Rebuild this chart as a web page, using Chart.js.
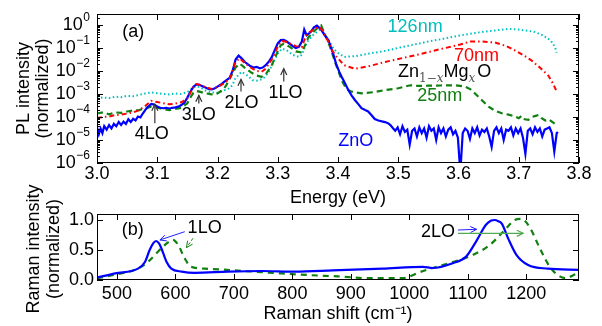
<!DOCTYPE html>
<html>
<head>
<meta charset="utf-8">
<script src="https://cdn.jsdelivr.net/npm/chart.js@4.4.1/dist/chart.umd.min.js"></script>
<style>
  body { margin: 0; background: #fff; }
  #wrap { position: relative; width: 602px; height: 326px; }
  canvas { position: absolute; left: 0; }
  #plChart { top: 0; }
  #ramanChart { top: 170px; }
</style>
</head>
<body>
<div id="wrap">
  <canvas id="plChart" width="602" height="212"></canvas>
  <canvas id="ramanChart" width="602" height="156"></canvas>
</div>
<script>
// (a) PL spectra: [energy eV, log10 normalized intensity]
const plZnO = [
  [3.000,-4.45],[3.003,-4.75],[3.006,-4.5],[3.009,-4.7],[3.012,-4.4],[3.016,-4.55],[3.020,-4.35],
  [3.024,-4.5],[3.028,-4.3],[3.032,-4.4],[3.036,-4.22],[3.040,-4.35],[3.044,-4.2],[3.048,-4.3],
  [3.052,-4.1],[3.056,-4.22],[3.060,-4.08],[3.064,-4.15],[3.068,-3.98],[3.072,-4.02],[3.076,-3.85],
  [3.080,-3.7],[3.085,-3.55],[3.090,-3.43],[3.095,-3.46],[3.100,-3.55],[3.105,-3.6],[3.110,-3.62],
  [3.115,-3.6],[3.120,-3.63],[3.125,-3.6],[3.130,-3.58],[3.135,-3.55],[3.140,-3.48],[3.145,-3.38],
  [3.150,-3.15],[3.155,-2.9],[3.160,-2.68],[3.165,-2.58],[3.170,-2.6],[3.175,-2.66],[3.180,-2.72],
  [3.185,-2.78],[3.190,-2.8],[3.195,-2.76],[3.200,-2.68],[3.205,-2.6],[3.210,-2.5],[3.215,-2.4],
  [3.220,-2.3],[3.225,-2.0],[3.230,-1.5],[3.235,-1.33],[3.240,-1.45],[3.245,-1.6],[3.250,-1.7],
  [3.255,-1.8],[3.260,-1.85],[3.265,-1.82],[3.270,-1.88],[3.275,-1.85],[3.280,-1.75],[3.285,-1.6],
  [3.290,-1.4],[3.295,-1.1],[3.300,-0.8],[3.305,-0.66],[3.310,-0.65],[3.315,-0.72],[3.320,-0.82],
  [3.325,-0.92],[3.330,-1.0],[3.335,-0.95],[3.340,-0.72],[3.344,-0.2],[3.348,-0.45],[3.355,-0.3],
  [3.360,-0.1],[3.365,-0.03],[3.372,-0.2],[3.378,-0.45],[3.384,-0.65],[3.392,-1.25],[3.397,-1.7],
  [3.402,-2.03],[3.406,-2.25],[3.412,-2.55],[3.417,-2.83],[3.423,-3.08],[3.428,-3.26],[3.434,-3.45],
  [3.439,-3.62],[3.445,-3.7],[3.450,-3.76],[3.455,-3.9],[3.461,-4.09],[3.467,-4.15],[3.473,-4.19],
  [3.478,-4.22],[3.483,-4.27],[3.487,-4.35],[3.491,-4.48],
  [3.495,-4.6],[3.499,-4.45],[3.503,-4.75],[3.507,-4.4],[3.511,-4.65],[3.515,-4.55],[3.519,-5.2],
  [3.523,-4.6],[3.527,-4.5],[3.531,-4.85],[3.535,-4.45],[3.539,-4.7],[3.543,-4.5],[3.547,-4.9],
  [3.551,-4.4],[3.555,-4.6],[3.559,-4.5],[3.563,-5.0],[3.567,-4.45],[3.571,-4.7],[3.575,-4.5],
  [3.579,-4.85],[3.583,-4.55],[3.587,-4.45],[3.591,-4.75],[3.595,-4.6],[3.599,-4.9],[3.603,-6.4],
  [3.607,-4.7],[3.611,-4.5],[3.615,-4.6],[3.619,-4.95],[3.623,-4.5],[3.627,-4.7],[3.631,-4.45],
  [3.635,-4.8],[3.639,-4.55],[3.643,-4.65],[3.647,-4.5],[3.651,-4.85],[3.655,-5.3],[3.659,-4.6],
  [3.663,-4.45],[3.667,-4.7],[3.671,-4.5],[3.675,-5.0],[3.679,-4.55],[3.683,-4.6],[3.687,-4.45],
  [3.691,-4.8],[3.695,-4.5],[3.699,-4.7],[3.703,-4.5],[3.707,-4.9],[3.711,-5.6],[3.715,-4.6],
  [3.719,-4.5],[3.723,-4.75],[3.727,-4.45],[3.731,-4.65],[3.735,-4.5],[3.739,-4.85],[3.743,-4.55],
  [3.747,-4.5],[3.751,-4.45],[3.755,-4.7],[3.759,-5.5],[3.763,-4.7],[3.765,-4.65]
];
const pl25nm = [
  [3.000,-3.85],[3.010,-3.8],[3.020,-3.88],[3.030,-3.8],[3.040,-3.82],[3.050,-3.76],[3.060,-3.72],
  [3.070,-3.7],[3.080,-3.62],[3.090,-3.55],[3.100,-3.6],[3.110,-3.66],[3.120,-3.7],[3.130,-3.65],
  [3.140,-3.6],[3.150,-3.4],[3.155,-3.15],[3.160,-2.95],[3.165,-2.87],[3.170,-2.9],[3.180,-2.97],
  [3.190,-3.02],[3.200,-2.98],[3.210,-2.8],[3.215,-2.6],[3.220,-2.35],[3.225,-2.1],[3.230,-1.85],
  [3.237,-1.68],[3.245,-1.85],[3.255,-2.05],[3.265,-2.2],[3.273,-2.25],[3.280,-2.15],[3.290,-1.75],
  [3.300,-1.15],[3.305,-0.88],[3.310,-0.82],[3.320,-0.95],[3.330,-1.15],[3.340,-1.2],[3.345,-0.9],
  [3.351,-0.53],[3.359,-0.31],[3.365,-0.15],[3.372,-0.02],[3.378,-0.39],[3.387,-0.96],[3.395,-1.6],
  [3.402,-2.1],[3.408,-2.5],[3.414,-2.78],[3.422,-2.9],[3.439,-2.97],[3.460,-2.92],[3.478,-2.83],
  [3.500,-2.75],[3.520,-2.62],[3.533,-2.65],[3.550,-2.64],[3.570,-2.63],[3.594,-2.62],[3.611,-2.68],
  [3.620,-2.8],[3.627,-2.97],[3.638,-3.25],[3.650,-3.55],[3.660,-3.72],[3.672,-3.84],[3.683,-3.9],
  [3.694,-3.98],[3.700,-4.05],[3.705,-3.95],[3.710,-4.1],[3.716,-4.12],[3.722,-4.0],[3.728,-3.95],
  [3.733,-3.91],[3.738,-4.05],[3.744,-4.15],[3.750,-4.1],[3.755,-4.2],[3.760,-4.3],[3.763,-4.38]
];
const pl70nm = [
  [3.000,-4.05],[3.010,-4.0],[3.020,-3.98],[3.030,-3.92],[3.040,-3.9],[3.050,-3.85],[3.060,-3.8],
  [3.070,-3.7],[3.080,-3.52],[3.090,-3.3],[3.100,-3.35],[3.110,-3.4],[3.120,-3.45],[3.130,-3.42],
  [3.140,-3.36],[3.150,-3.2],[3.155,-2.95],[3.160,-2.7],[3.165,-2.57],[3.170,-2.6],[3.180,-2.7],
  [3.190,-2.78],[3.200,-2.7],[3.210,-2.55],[3.220,-2.35],[3.225,-2.05],[3.230,-1.6],[3.237,-1.45],
  [3.245,-1.65],[3.255,-1.85],[3.265,-2.0],[3.273,-2.04],[3.280,-1.9],[3.290,-1.5],[3.300,-0.95],
  [3.305,-0.72],[3.310,-0.7],[3.320,-0.8],[3.330,-0.92],[3.340,-0.96],[3.345,-0.6],[3.350,-0.35],
  [3.360,-0.2],[3.368,-0.08],[3.375,-0.25],[3.380,-0.5],[3.385,-0.8],[3.390,-1.1],[3.398,-1.39],
  [3.410,-1.75],[3.428,-1.9],[3.450,-1.8],[3.478,-1.61],[3.510,-1.42],[3.539,-1.25],[3.570,-1.05],
  [3.603,-0.85],[3.619,-0.72],[3.640,-0.72],[3.660,-0.76],[3.680,-0.92],[3.694,-1.11],[3.710,-1.35],
  [3.721,-1.54],[3.735,-1.85],[3.749,-2.2],[3.757,-2.55],[3.763,-2.9]
];
const pl126nm = [
  [3.000,-3.2],[3.010,-3.15],[3.020,-3.18],[3.030,-3.12],[3.040,-3.14],[3.050,-3.08],[3.060,-3.1],
  [3.070,-3.04],[3.080,-2.98],[3.090,-2.93],[3.100,-2.97],[3.110,-3.0],[3.120,-3.02],[3.130,-2.98],
  [3.140,-3.0],[3.150,-2.92],[3.160,-2.72],[3.165,-2.67],[3.170,-2.7],[3.180,-2.85],[3.190,-2.93],
  [3.200,-2.95],[3.210,-2.85],[3.220,-2.75],[3.225,-2.6],[3.230,-2.3],[3.240,-2.04],[3.250,-2.2],
  [3.258,-2.4],[3.265,-2.42],[3.275,-2.35],[3.285,-2.05],[3.295,-1.5],[3.300,-1.25],[3.307,-1.03],
  [3.315,-1.1],[3.325,-1.3],[3.335,-1.39],[3.340,-1.3],[3.345,-0.95],[3.350,-0.7],[3.360,-0.4],
  [3.372,-0.17],[3.378,-0.4],[3.385,-0.7],[3.392,-1.0],[3.398,-1.18],[3.410,-1.39],[3.430,-1.35],
  [3.450,-1.25],[3.480,-1.12],[3.506,-0.96],[3.530,-0.83],[3.550,-0.72],[3.575,-0.6],[3.594,-0.5],
  [3.615,-0.4],[3.638,-0.31],[3.660,-0.24],[3.683,-0.17],[3.700,-0.2],[3.715,-0.25],[3.727,-0.31],
  [3.740,-0.45],[3.750,-0.62],[3.755,-0.75],[3.760,-0.95],[3.763,-1.2]
];

// (b) Raman spectra: [shift cm-1, normalized intensity]
const ramanZnO = [
  [466,0.04],[497,0.11],[536,0.19],[548,0.3],[556,0.5],[562,0.61],[567,0.65],[572,0.61],[576,0.53],
  [585,0.3],[593,0.19],[611,0.14],[633,0.12],[690,0.14],[747,0.15],[804,0.14],[869,0.16],[954,0.19],
  [1023,0.22],[1040,0.2],[1074,0.28],[1097,0.39],[1114,0.64],[1131,0.92],[1140,0.99],[1146,1.0],
  [1152,0.98],[1158,0.94],[1169,0.69],[1183,0.42],[1203,0.25],[1237,0.19],[1290,0.17]
];
const ramanFilm = [
  [466,0.03],[497,0.09],[536,0.19],[553,0.3],[576,0.53],[588,0.63],[596,0.67],[605,0.58],[616,0.36],
  [627,0.22],[650,0.19],[718,0.15],[780,0.11],[832,0.08],[878,0.06],[932,0.03],[989,0.03],[1001,0.06],
  [1015,0.12],[1040,0.2],[1074,0.3],[1109,0.42],[1137,0.58],[1160,0.8],[1180,1.0],[1191,1.02],
  [1205,0.89],[1223,0.53],[1240,0.22],[1257,0.06],[1268,0.03],[1280,0.08],[1290,0.13]
];

const plDecades = [-6, -5, -4, -3, -2, -1, 0];
const energyTicks = [3.0, 3.1, 3.2, 3.3, 3.4, 3.5, 3.6, 3.7, 3.8];
const ramanTitle = ['Raman intensity', '(normalized)'];

const FONT = "'Liberation Sans', Arial, sans-serif";
Chart.defaults.font.family = FONT;
Chart.defaults.font.size = 18;
Chart.defaults.color = '#000';

const fromLog = arr => arr.map(p => ({ x: p[0], y: Math.pow(10, p[1]) }));
const toXY = arr => arr.map(p => ({ x: p[0], y: p[1] }));

function arrow(ctx, x1, y1, x2, y2, color, dash, w) {
  ctx.save();
  ctx.strokeStyle = color;
  ctx.lineWidth = w || 1;
  ctx.setLineDash(dash || []);
  ctx.beginPath(); ctx.moveTo(x1, y1); ctx.lineTo(x2, y2); ctx.stroke();
  ctx.setLineDash([]);
  const a = Math.atan2(y2 - y1, x2 - x1), h = 7;
  ctx.beginPath();
  ctx.moveTo(x2 - h * Math.cos(a - 0.45), y2 - h * Math.sin(a - 0.45));
  ctx.lineTo(x2, y2);
  ctx.lineTo(x2 - h * Math.cos(a + 0.45), y2 - h * Math.sin(a + 0.45));
  ctx.stroke();
  ctx.restore();
}

function text(ctx, s, x, y, color, font, align) {
  ctx.font = font || ('18px ' + FONT);
  ctx.fillStyle = color || '#000';
  ctx.textAlign = align || 'center';
  ctx.textBaseline = 'middle';
  ctx.fillText(s, x, y);
}

// frame with inward ticks on all four sides
function drawBox(chart, xTicks, yTicks) {
  const { ctx, chartArea: a } = chart;
  const xs = chart.scales.x, ys = chart.scales.y;
  ctx.save();
  ctx.strokeStyle = '#000';
  ctx.lineWidth = 1;
  ctx.strokeRect(a.left + 0.5, a.top + 0.5, a.right - a.left - 1, a.bottom - a.top - 1);
  ctx.beginPath();
  xTicks.forEach(t => {
    const px = Math.round(xs.getPixelForValue(t.v)) + 0.5;
    ctx.moveTo(px, a.top); ctx.lineTo(px, a.top + t.len);
    ctx.moveTo(px, a.bottom); ctx.lineTo(px, a.bottom - t.len);
  });
  yTicks.forEach(t => {
    const py = Math.round(ys.getPixelForValue(t.v)) + 0.5;
    ctx.moveTo(a.left, py); ctx.lineTo(a.left + t.len, py);
    ctx.moveTo(a.right, py); ctx.lineTo(a.right - t.len, py);
  });
  ctx.stroke();
  ctx.restore();
}

const plDecor = {
  id: 'plDecor',
  afterDraw(chart) {
    const { ctx, chartArea: a } = chart;
    const xs = chart.scales.x, ys = chart.scales.y;
    const X = v => xs.getPixelForValue(v);
    const Y = l => ys.getPixelForValue(Math.pow(10, l));

    const yTicks = [];
    plDecades.forEach(d => {
      for (let m = 1; m <= 9; m++) {
        const v = m * Math.pow(10, d);
        if (v <= ys.max) yTicks.push({ v: v, len: m === 1 ? 6 : 3 });
      }
    });
    drawBox(chart, energyTicks.map(v => ({ v: v, len: 6 })), yTicks);

    // log tick labels 10^n
    plDecades.forEach(d => {
      const y = Y(d);
      const exp = d === 0 ? '0' : '\u2212' + Math.abs(d);
      ctx.font = '12px ' + FONT;
      const ew = ctx.measureText(exp).width;
      const right = a.left - 7;
      text(ctx, exp, right, y - 7, '#000', '12px ' + FONT, 'right');
      text(ctx, '10', right - ew - 0.5, y, '#000', '18px ' + FONT, 'right');
    });

    text(ctx, '(a)', X(3.060), Y(-0.30));

    // phonon replica arrows
    const grey = '#333';
    text(ctx, '4LO', X(3.091), Y(-4.74));
    arrow(ctx, X(3.096), Y(-4.27), X(3.096), Y(-3.45), grey, null, 1.2);
    text(ctx, '3LO', X(3.169), Y(-3.92));
    arrow(ctx, X(3.169), Y(-3.41), X(3.169), Y(-3.06), grey, null, 1.2);
    text(ctx, '2LO', X(3.240), Y(-3.41));
    arrow(ctx, X(3.239), Y(-2.89), X(3.239), Y(-2.37), grey, null, 1.2);
    text(ctx, '1LO', X(3.313), Y(-2.94));
    arrow(ctx, X(3.310), Y(-2.46), X(3.310), Y(-1.9), grey, null, 1.2);

    text(ctx, '126nm', X(3.528), Y(-0.07), '#00bfbf');
    text(ctx, '70nm', X(3.630), Y(-1.37), '#ff0000');
    text(ctx, '25nm', X(3.569), Y(-3.09), '#108010');
    text(ctx, 'ZnO', X(3.4295), Y(-5.03), '#0000ff');

    // Zn_{1-x}Mg_{x}O
    let x = X(3.4996);
    const y = Y(-2.24);
    ctx.textAlign = 'left';
    ctx.textBaseline = 'alphabetic';
    ctx.fillStyle = '#000';
    ctx.font = '18px ' + FONT;
    ctx.fillText('Zn', x, y); x += ctx.measureText('Zn').width;
    ctx.fillStyle = '#555';
    ctx.font = "12px 'DejaVu Serif', serif";
    ctx.fillText('1\u2212', x, y + 5); x += ctx.measureText('1\u2212').width;
    ctx.font = "italic 12px 'DejaVu Serif', serif";
    ctx.fillText('x', x, y + 5); x += ctx.measureText('x').width;
    ctx.fillStyle = '#000';
    ctx.font = '18px ' + FONT;
    ctx.fillText('Mg', x, y); x += ctx.measureText('Mg').width;
    ctx.fillStyle = '#555';
    ctx.font = "italic 12px 'DejaVu Serif', serif";
    ctx.fillText('x', x, y + 5); x += ctx.measureText('x').width + 2;
    ctx.fillStyle = '#000';
    ctx.font = '18px ' + FONT;
    ctx.fillText('O', x, y);
  }
};

const ramanDecor = {
  id: 'ramanDecor',
  afterDraw(chart) {
    const { ctx, chartArea: a } = chart;
    const xs = chart.scales.x, ys = chart.scales.y;
    const X = v => xs.getPixelForValue(v);
    const Y = v => ys.getPixelForValue(v);
    drawBox(chart,
      xs.ticks.map(t => ({ v: t.value, len: 6 })),
      ys.ticks.map(t => ({ v: t.value, len: 6 })));

    // rotated two-line y title
    const yc = (a.top + a.bottom) / 2 + 2;
    ramanTitle.forEach((s, i) => {
      ctx.save();
      ctx.translate(34.5 + i * 19.4, yc);
      ctx.rotate(-Math.PI / 2);
      text(ctx, s, 0, 0);
      ctx.restore();
    });

    text(ctx, '(b)', X(527), Y(0.83));
    text(ctx, '1LO', X(650), Y(0.87));
    arrow(ctx, X(616), Y(0.805), X(573.5), Y(0.667), '#2020ff', null, 1);
    arrow(ctx, X(630), Y(0.695), X(619), Y(0.54), '#108010', [3, 2], 1);
    text(ctx, '2LO', X(1049), Y(0.805));
    arrow(ctx, X(1083), Y(0.833), X(1115), Y(0.845), '#2020ff', null, 1);
    arrow(ctx, X(1083), Y(0.778), X(1194.5), Y(0.778), '#50aa50', null, 1.2);
  }
};

new Chart(document.getElementById('plChart'), {
  type: 'line',
  data: {
    datasets: [
      { data: fromLog(pl70nm), borderColor: '#ff0000', borderWidth: 2, borderDash: [5, 3, 1.5, 3] },
      { data: fromLog(plZnO), borderColor: '#0000ff', borderWidth: 2.2 },
      { data: fromLog(pl25nm), borderColor: '#108010', borderWidth: 2.2, borderDash: [6, 4] },
      { data: fromLog(pl126nm), borderColor: '#00bfbf', borderWidth: 2, borderDash: [1.5, 2.5] }
    ]
  },
  options: {
    responsive: false,
    animation: false,
    devicePixelRatio: 1,
    events: [],
    layout: { padding: { top: 14, right: 23, left: 0, bottom: 0 } },
    elements: { point: { radius: 0 }, line: { tension: 0, fill: false } },
    plugins: { legend: { display: false }, tooltip: { enabled: false } },
    scales: {
      x: {
        type: 'linear', min: 3.0, max: 3.8,
        grid: { display: false, drawTicks: false }, border: { display: false },
        ticks: { stepSize: 0.1, padding: 0, maxRotation: 0, includeBounds: false,
                 callback: v => v.toFixed(1) },
        title: { display: true, text: 'Energy (eV)', padding: { top: 0, bottom: 3.5 } },
        afterFit: s => { s.height = 49; }
      },
      y: {
        type: 'logarithmic', min: 1e-6, max: 3,
        grid: { display: false, drawTicks: false }, border: { display: false },
        ticks: { display: false },
        title: { display: true, text: ['PL intensity', '(normalized)'],
                 font: { size: 18, lineHeight: 1.08 }, padding: { top: 14, bottom: 0 } },
        afterFit: s => { s.width = 97; }
      }
    }
  },
  plugins: [plDecor]
});

new Chart(document.getElementById('ramanChart'), {
  type: 'line',
  data: {
    datasets: [
      { data: toXY(ramanZnO), borderColor: '#0000ff', borderWidth: 2.2 },
      { data: toXY(ramanFilm), borderColor: '#108010', borderWidth: 2.2, borderDash: [6, 5] }
    ]
  },
  options: {
    responsive: false,
    animation: false,
    devicePixelRatio: 1,
    events: [],
    layout: { padding: { top: 44, right: 23, left: 0, bottom: 0 } },
    elements: { point: { radius: 0 }, line: { tension: 0.4, cubicInterpolationMode: 'monotone', fill: false } },
    plugins: { legend: { display: false }, tooltip: { enabled: false } },
    scales: {
      x: {
        type: 'linear', min: 466, max: 1290,
        grid: { display: false, drawTicks: false }, border: { display: false },
        ticks: { stepSize: 100, padding: 3, maxRotation: 0, includeBounds: false,
                 callback: v => String(v) },
        title: { display: true, text: 'Raman shift (cm\u207B\u00B9)', padding: { top: 0, bottom: 1.5 } },
        afterFit: s => { s.height = 46; }
      },
      y: {
        min: 0, max: 1.1,
        grid: { display: false, drawTicks: false }, border: { display: false },
        ticks: { stepSize: 0.25, padding: 3, includeBounds: false,
                 callback: v => Math.abs(v * 2 - Math.round(v * 2)) < 1e-6 ? v.toFixed(1) : '' },
        afterFit: s => { s.width = 97; }
      }
    }
  },
  plugins: [ramanDecor]
});
</script>
</body>
</html>
